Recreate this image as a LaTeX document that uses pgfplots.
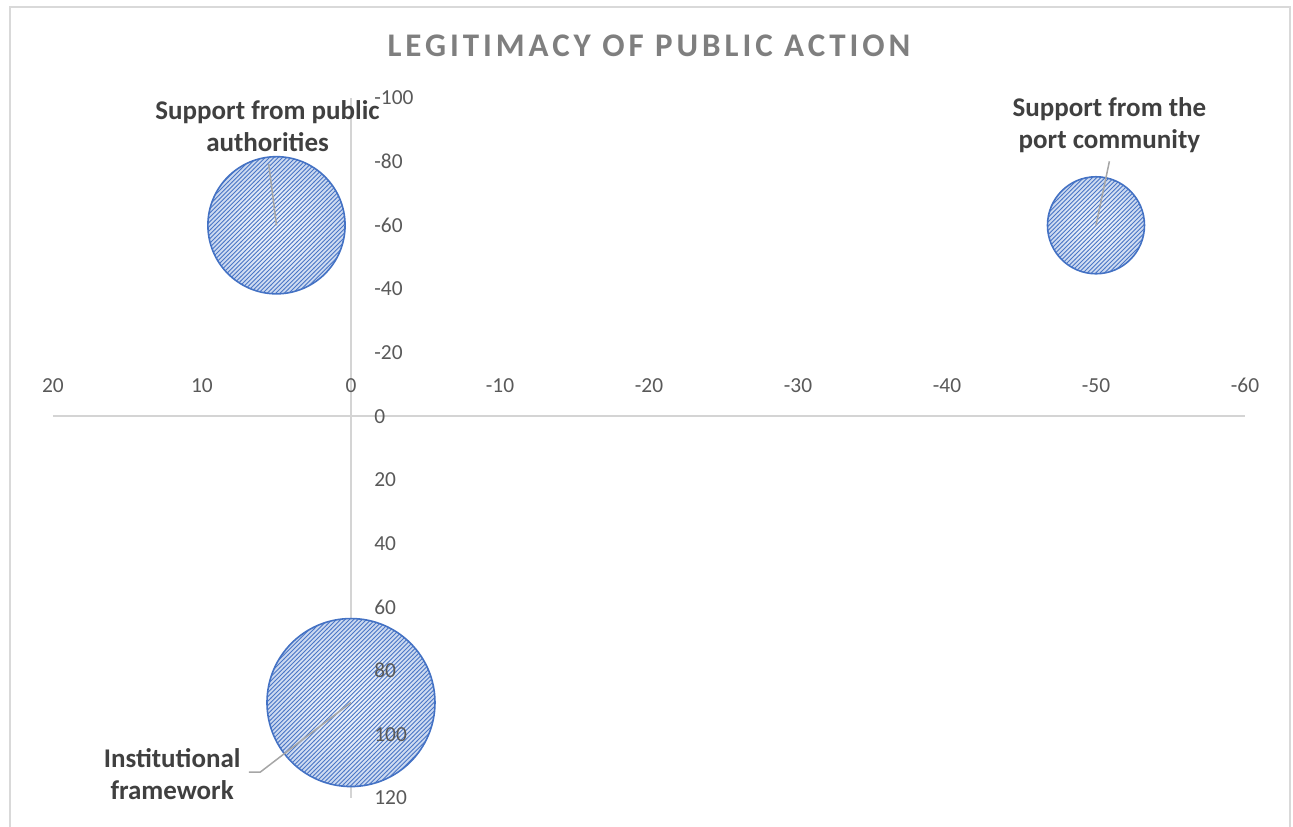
\documentclass[border=0pt]{standalone}
\usepackage{fontspec}
\setmainfont{Carlito}
\usepackage{pgfplots}
\pgfplotsset{compat=1.18}
\usetikzlibrary{calc}

\definecolor{axisgray}{HTML}{D4D4D4}
\definecolor{framegray}{HTML}{D9D9D9}
\definecolor{ticktext}{HTML}{595959}
\definecolor{labeltext}{HTML}{404040}
\definecolor{titletext}{HTML}{7F7F7F}
\definecolor{leadergray}{HTML}{A6A6A6}
\definecolor{bubin}{HTML}{ECF1FA}
\definecolor{bubout}{HTML}{C9D7EF}
\definecolor{bubline}{HTML}{4A76C6}
\definecolor{bubedge}{HTML}{4472C4}

\tikzset{
  dlabel/.style={align=center, text=labeltext, inner sep=0pt,
    font=\bfseries\fontsize{13.5}{16}\selectfont},
  leader/.style={leadergray, line width=0.75pt},
}

% both axes share one geometry: reversed x and y, crossing at the origin
\pgfplotsset{
  legitimacy/.style={
    at={(0,0)}, anchor=south west,
    scale only axis,
    width=596pt, height=350pt,
    xmin=-60, xmax=20, ymin=-100, ymax=120,
    x dir=reverse, y dir=reverse,
    clip=false,
  },
}

% dense upward diagonal hatch
\pgfdeclarepatternformonly{bubhatch}{\pgfqpoint{-1pt}{-1pt}}{\pgfqpoint{3.15pt}{3.15pt}}{\pgfqpoint{2.15pt}{2.15pt}}{%
  \pgfsetlinewidth{0.45pt}%
  \pgfpathmoveto{\pgfqpoint{0pt}{0pt}}%
  \pgfpathlineto{\pgfqpoint{2.25pt}{2.25pt}}%
  \pgfusepath{stroke}}

% soft radial fill, light in the middle
\pgfdeclareradialshading{bubshade}{\pgfpointorigin}{%
  color(0bp)=(bubin); color(12bp)=(bubin!75!bubout); color(25bp)=(bubout); color(50bp)=(bubout)}

% hatched bubble: shading, hatch, outline
\pgfdeclareplotmark{bubble}{%
  \pgfpathcircle{\pgfpointorigin}{\pgfplotmarksize}%
  \pgfshadepath{bubshade}{0}%
  \pgfpathcircle{\pgfpointorigin}{\pgfplotmarksize}%
  \pgfsetfillpattern{bubhatch}{bubline}%
  \pgfusepath{fill}%
  \pgfpathcircle{\pgfpointorigin}{\pgfplotmarksize}%
  \pgfsetstrokecolor{bubedge}%
  \pgfsetlinewidth{0.8pt}%
  \pgfusepath{stroke}%
}

\begin{document}
\begin{tikzpicture}
% axis lines and bubbles
\begin{axis}[legitimacy, hide axis]
\draw[axisgray, line width=0.75pt] (axis cs:20,0) -- (axis cs:-60,0);
\draw[axisgray, line width=0.75pt] (axis cs:0,-100) -- (axis cs:0,120);

\addplot[only marks, mark=bubble, scatter, point meta=\thisrow{s},
  visualization depends on={\thisrow{s} \as \bsize},
  scatter/@pre marker code/.append style={/tikz/mark size={42*sqrt(\bsize/30)}}]
  table {
x    y    s
5    -60  20
-50  -60  10
0    90   30
};

\coordinate (BL) at (axis cs:20,120);
\coordinate (TR) at (axis cs:-60,-100);
\end{axis}

% tick labels, data labels and title on top of the bubbles
\begin{axis}[
  legitimacy,
  axis lines=middle,
  axis line style={draw=none, -},
  xtick={-60,-50,...,20},
  ytick={-100,-80,...,120},
  major tick length=0pt,
  hide obscured x ticks=false,
  hide obscured y ticks=false,
  /pgf/number format/assume math mode=true,
  xticklabel style={anchor=center, yshift=15.5pt, text=ticktext,
    font=\fontsize{10.7}{12}\selectfont},
  yticklabel style={anchor=west, inner sep=0pt, xshift=11.5pt, text=ticktext,
    font=\fontsize{10.7}{12}\selectfont},
]
% leader lines
\draw[leader] (axis cs:5.52,-79.2) -- (axis cs:5,-60);
\draw[leader] (axis cs:-50.9,-80.1) -- (axis cs:-50,-60);
\draw[leader] (axis cs:6.85,111.9) -- (axis cs:6.1,111.9) -- (axis cs:0,90);

% data labels
\node[dlabel] at (axis cs:5.6,-91.1) {Support from public\\authorities};
\node[dlabel] at (axis cs:-50.9,-91.5) {Support from the\\port community};
\node[dlabel] at (axis cs:12.0,112.5) {Institutional\\framework};

% title
\node[text=titletext, inner sep=0pt,
  font=\bfseries\fontsize{16.5}{19}\selectfont\addfontfeatures{LetterSpace=12}]
  at (axis cs:-20,-116.3) {LEGITIMACY OF PUBLIC ACTION};
\end{axis}

% chart frame
\draw[framegray, line width=0.75pt] let \p1=(BL), \p2=(TR) in
  (\x1-21.5pt,\y1-20pt) -- (\x1-21.5pt,\y2+45.5pt) -- (\x2+22.5pt,\y2+45.5pt) -- (\x2+22.5pt,\y1-20pt);

\pgfresetboundingbox
\path let \p1=(BL), \p2=(TR) in (\x1-26.5pt,\y1-14.5pt) rectangle (\x2+24pt,\y2+49pt);
\end{tikzpicture}
\end{document}
